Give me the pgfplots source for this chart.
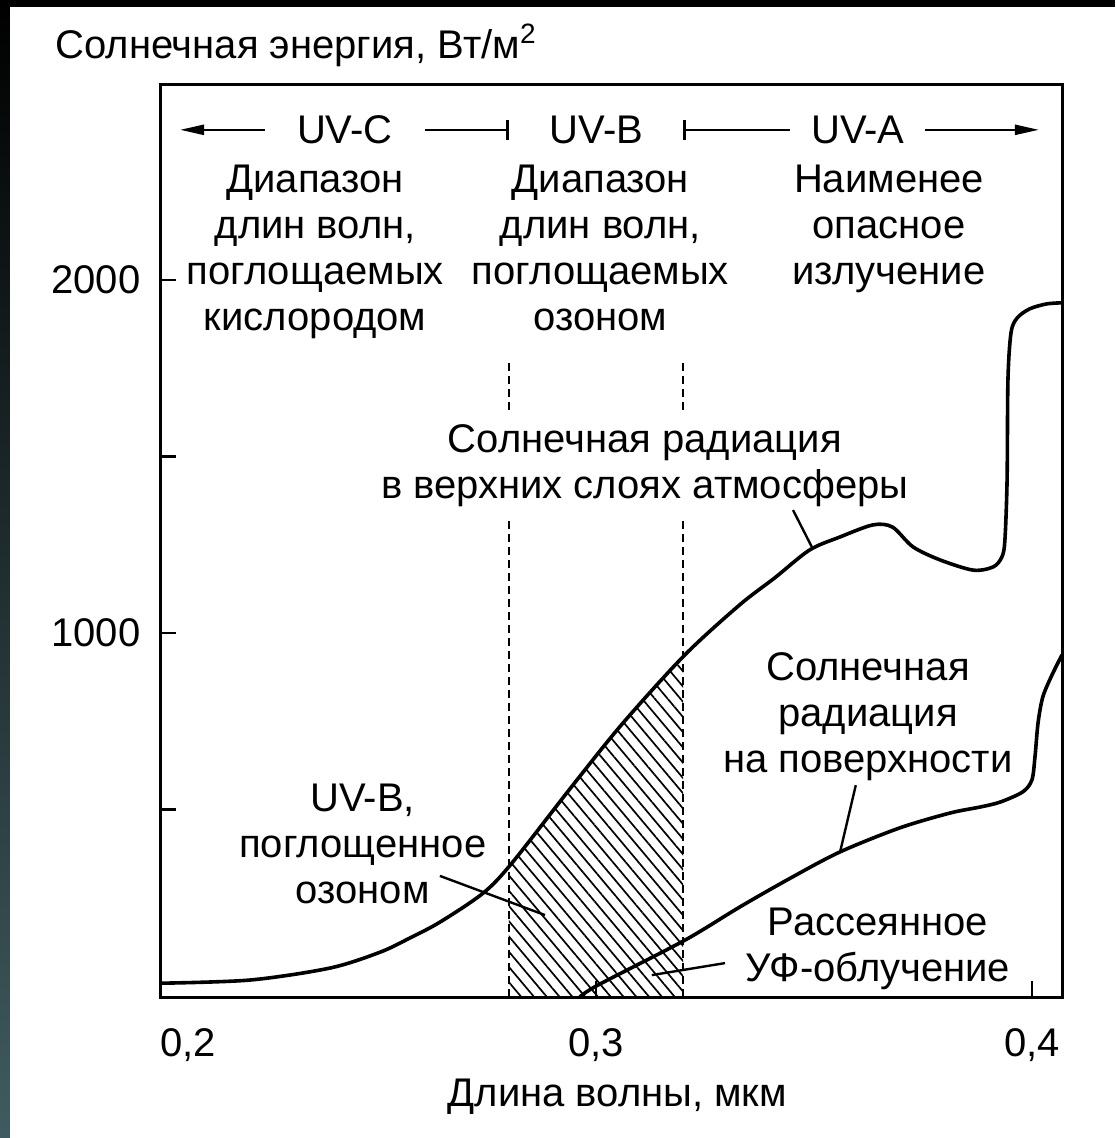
\documentclass[border=0pt]{standalone}
\usepackage{fontspec}
\setmainfont{Liberation Sans}
\usepackage{pgfplots}
\pgfplotsset{compat=1.18}
\usepgfplotslibrary{fillbetween}
\usetikzlibrary{patterns.meta,arrows.meta}
\definecolor{stripc}{RGB}{64,91,95}
\begin{document}
\fontsize{20}{23}\selectfont
\begin{tikzpicture}
\path (-80pt,-70.5pt) rectangle (477.5pt,498.5pt);
\shade[top color=black, bottom color=stripc] (-80pt,-70.5pt) rectangle (-75pt,498.5pt);
\fill[black] (-80pt,495pt) rectangle (477.5pt,498.5pt);
\begin{axis}[
  at={(0pt,0pt)}, anchor=south west,
  scale only axis, width=451pt, height=456pt,
  xmin=0.2, xmax=0.4069, ymin=-31, ymax=2552,
  axis line style={line width=1.5pt},
  tick style={line width=1.3pt, black},
  major tick length=8pt,
  tick align=inside,
  tick pos=left,
  xtick={0.2,0.3,0.4},
  xticklabels={{\makebox[0pt][l]{0,2}},{0,3},{0,4}},
  ytick={500,1000,1500,2000},
  yticklabels={,1000,,2000},
  xticklabel style={yshift=-9pt},
  yticklabel style={xshift=-3pt},
  xlabel={Длина волны, мкм},
  xlabel style={at={(axis description cs:0.507,0)}, anchor=center, yshift=-50pt},
  ylabel={Солнечная энергия, Вт/м\textsuperscript{2}},
  ylabel style={rotate=-90, at={(axis description cs:-0.1164,1.0439)}, anchor=west, inner sep=0pt},
]
% top of atmosphere
\addplot[line width=1.8pt, smooth, name path=top] coordinates {
(0.2000,8) (0.2206,17) (0.2390,51) (0.2505,96) (0.2573,136) (0.2642,181)
(0.2741,263) (0.2807,348) (0.2947,569) (0.3062,745) (0.3204,938) (0.3330,1080)
(0.3410,1156) (0.3490,1235) (0.3560,1272) (0.3635,1306) (0.3680,1300) (0.3727,1244)
(0.3789,1207) (0.3865,1178) (0.3911,1187) (0.3931,1215) (0.3938,1263) (0.3943,1433)
(0.3945,1717) (0.3952,1850) (0.3966,1892) (0.3995,1918) (0.4034,1932) (0.4069,1935)
};
\addplot[draw=none, name path=base] coordinates {(0.2,-31) (0.4069,-31)};
\addplot[pattern={Lines[angle=-50,distance=4.9pt,line width=0.85pt]}, draw=none]
  fill between[of=top and base, soft clip={domain=0.28:0.32}];
% surface
\addplot[line width=1.8pt, smooth] coordinates {
(0.2963,-31) (0.3005,3) (0.3204,130) (0.3330,224) (0.3445,305) (0.3560,380)
(0.3697,448) (0.3812,490) (0.3881,507) (0.3927,521) (0.3979,550) (0.4000,584)
(0.4007,649) (0.4014,745) (0.4025,819) (0.4046,881) (0.4069,938)
};
% dashed boundaries
\addplot[line width=1pt, dash pattern=on 4pt off 2.5pt] coordinates {(0.28,-31) (0.28,1320)};
\addplot[line width=1pt, dash pattern=on 4pt off 2.5pt] coordinates {(0.28,1632) (0.28,1770)};
\addplot[line width=1pt, dash pattern=on 4pt off 2.5pt] coordinates {(0.32,-31) (0.32,1320)};
\addplot[line width=1pt, dash pattern=on 4pt off 2.5pt] coordinates {(0.32,1632) (0.32,1770)};
% top band arrows
\draw[line width=1.2pt, -{Triangle[length=12pt,width=5pt]}] (axis cs:0.2241,2425) -- (axis cs:0.2046,2425);
\draw[line width=1.2pt, -{Bar[width=10pt,line width=1.2pt]}] (axis cs:0.2608,2425) -- (axis cs:0.2800,2425);
\draw[line width=1.2pt, {Bar[width=10pt,line width=1.2pt]}-] (axis cs:0.3200,2425) -- (axis cs:0.3445,2425);
\draw[line width=1.2pt, -{Triangle[length=12pt,width=5pt]}] (axis cs:0.3755,2425) -- (axis cs:0.4016,2425);
\node at (axis cs:0.2424,2425) {UV-C};
\node at (axis cs:0.3001,2425) {UV-B};
\node at (axis cs:0.3601,2425) {UV-A};
\node[align=center, anchor=north] at (axis cs:0.2356,2363) {Диапазон\\длин волн,\\поглощаемых\\кислородом};
\node[align=center, anchor=north] at (axis cs:0.3010,2363) {Диапазон\\длин волн,\\поглощаемых\\озоном};
\node[align=center, anchor=north] at (axis cs:0.3672,2363) {Наименее\\опасное\\излучение};
\node[align=center] at (axis cs:0.3112,1474) {Солнечная радиация\\в верхних слоях атмосферы};
\node[align=center] at (axis cs:0.3624,764) {Солнечная\\радиация\\на поверхности};
\node[align=center] at (axis cs:0.2465,402) {UV-B,\\поглощенное\\озоном};
\node[align=center] at (axis cs:0.3647,106) {Рассеянное\\УФ-облучение};
% leader lines
\draw[line width=1.2pt] (axis cs:0.3452,1348) -- (axis cs:0.3495,1244);
\draw[line width=1.2pt] (axis cs:0.3596,569) -- (axis cs:0.3560,380);
\draw[line width=1.2pt] (axis cs:0.2642,312) -- (axis cs:0.2883,201);
\draw[line width=1.2pt] (axis cs:0.3296,65) -- (axis cs:0.3128,31);
\end{axis}
\end{tikzpicture}
\end{document}
